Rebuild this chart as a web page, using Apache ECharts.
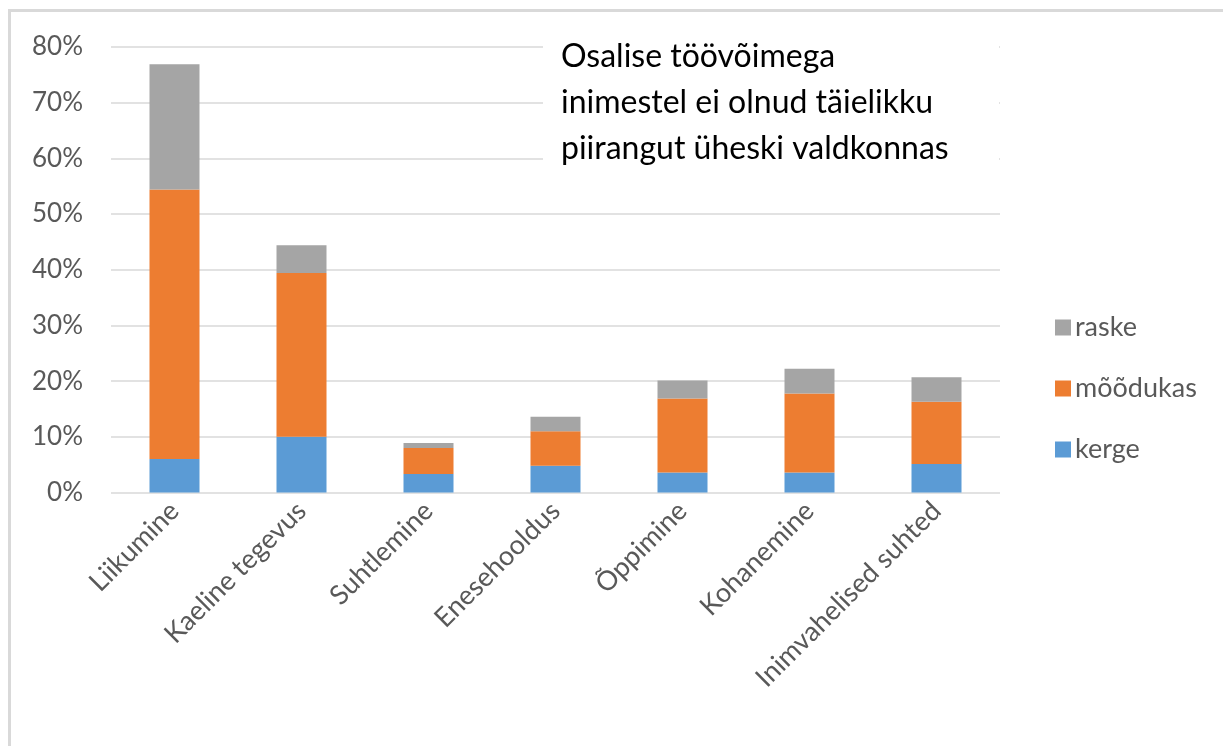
<!DOCTYPE html>
<html>
<head>
<meta charset="utf-8">
<script src="https://cdn.jsdelivr.net/npm/echarts@6/dist/echarts.min.js"></script>
<style>
  html, body { margin: 0; padding: 0; background: #fff; }
  #chart { width: 1223px; height: 746px; }
</style>
</head>
<body>
<div id="chart"></div>
<script>
// andmed
var categories = ['Liikumine', 'Kaeline tegevus', 'Suhtlemine', 'Enesehooldus', 'Õppimine', 'Kohanemine', 'Inimvahelised suhted']
var kerge = [6.0, 10.0, 3.3, 4.8, 3.6, 3.6, 5.1]
var moodukas = [48.4, 29.4, 4.7, 6.2, 13.3, 14.2, 11.2]
var raske = [22.5, 5.0, 0.9, 2.6, 3.2, 4.4, 4.4]
var noteLines = ['Osalise töövõimega', 'inimestel ei olnud täielikku', 'piirangut üheski valdkonnas']

var FONT = 'Lato, "Open Sans", sans-serif'
var LABEL = '#595959'

var makeSeries = function (name, data, color) {
    return {
        name: name,
        type: 'bar',
        stack: 'total',
        barWidth: 50,
        data: data,
        itemStyle: { color: color },
        emphasis: { disabled: true }
    }
}

var chart = echarts.init(document.getElementById('chart'))
chart.setOption({
    animation: false,
    textStyle: { fontFamily: FONT },
    grid: { left: 111, right: 223, top: 47, height: 445.5 },
    legend: {
        orient: 'vertical',
        left: 1050,
        top: 309,
        itemWidth: 16,
        itemHeight: 16,
        itemGap: 34,
        icon: 'rect',
        // legend goes top-down: raske, mõõdukas, kerge
        data: ['raske', 'mõõdukas', 'kerge'],
        textStyle: { fontSize: 27, color: LABEL, fontFamily: FONT, padding: [0, 0, 0, -1] }
    },
    xAxis: {
        type: 'category',
        data: categories,
        axisLine: { show: false },
        axisTick: { show: false },
        axisLabel: {
            rotate: 45,
            interval: 0,
            margin: 14,
            fontSize: 27,
            color: LABEL,
            fontFamily: FONT
        }
    },
    yAxis: {
        type: 'value',
        min: 0,
        max: 80,
        interval: 10,
        axisLabel: {
            formatter: '{value}%',
            margin: 28,
            fontSize: 26,
            color: LABEL,
            fontFamily: FONT
        },
        splitLine: { lineStyle: { color: '#D9D9D9', width: 1.5 } }
    },
    series: [
        makeSeries('kerge', kerge, '#5B9BD5'),
        makeSeries('mõõdukas', moodukas, '#ED7D31'),
        makeSeries('raske', raske, '#A5A5A5')
    ],
    graphic: [
        {
            type: 'rect',
            z: 100,
            shape: { x: 9.5, y: 10.5, width: 1400, height: 1000 },
            style: { fill: null, stroke: '#D9D9D9', lineWidth: 3 },
            silent: true
        },
        {
            type: 'rect',
            z: 100,
            shape: { x: 543, y: 18, width: 456, height: 195 },
            style: { fill: '#fff' },
            silent: true
        },
        {
            type: 'text',
            z: 101,
            left: 561,
            top: 34,
            style: {
                text: noteLines.join('\n'),
                fontSize: 32,
                lineHeight: 46,
                fill: '#000',
                fontFamily: FONT
            },
            silent: true
        }
    ]
})
</script>
</body>
</html>
